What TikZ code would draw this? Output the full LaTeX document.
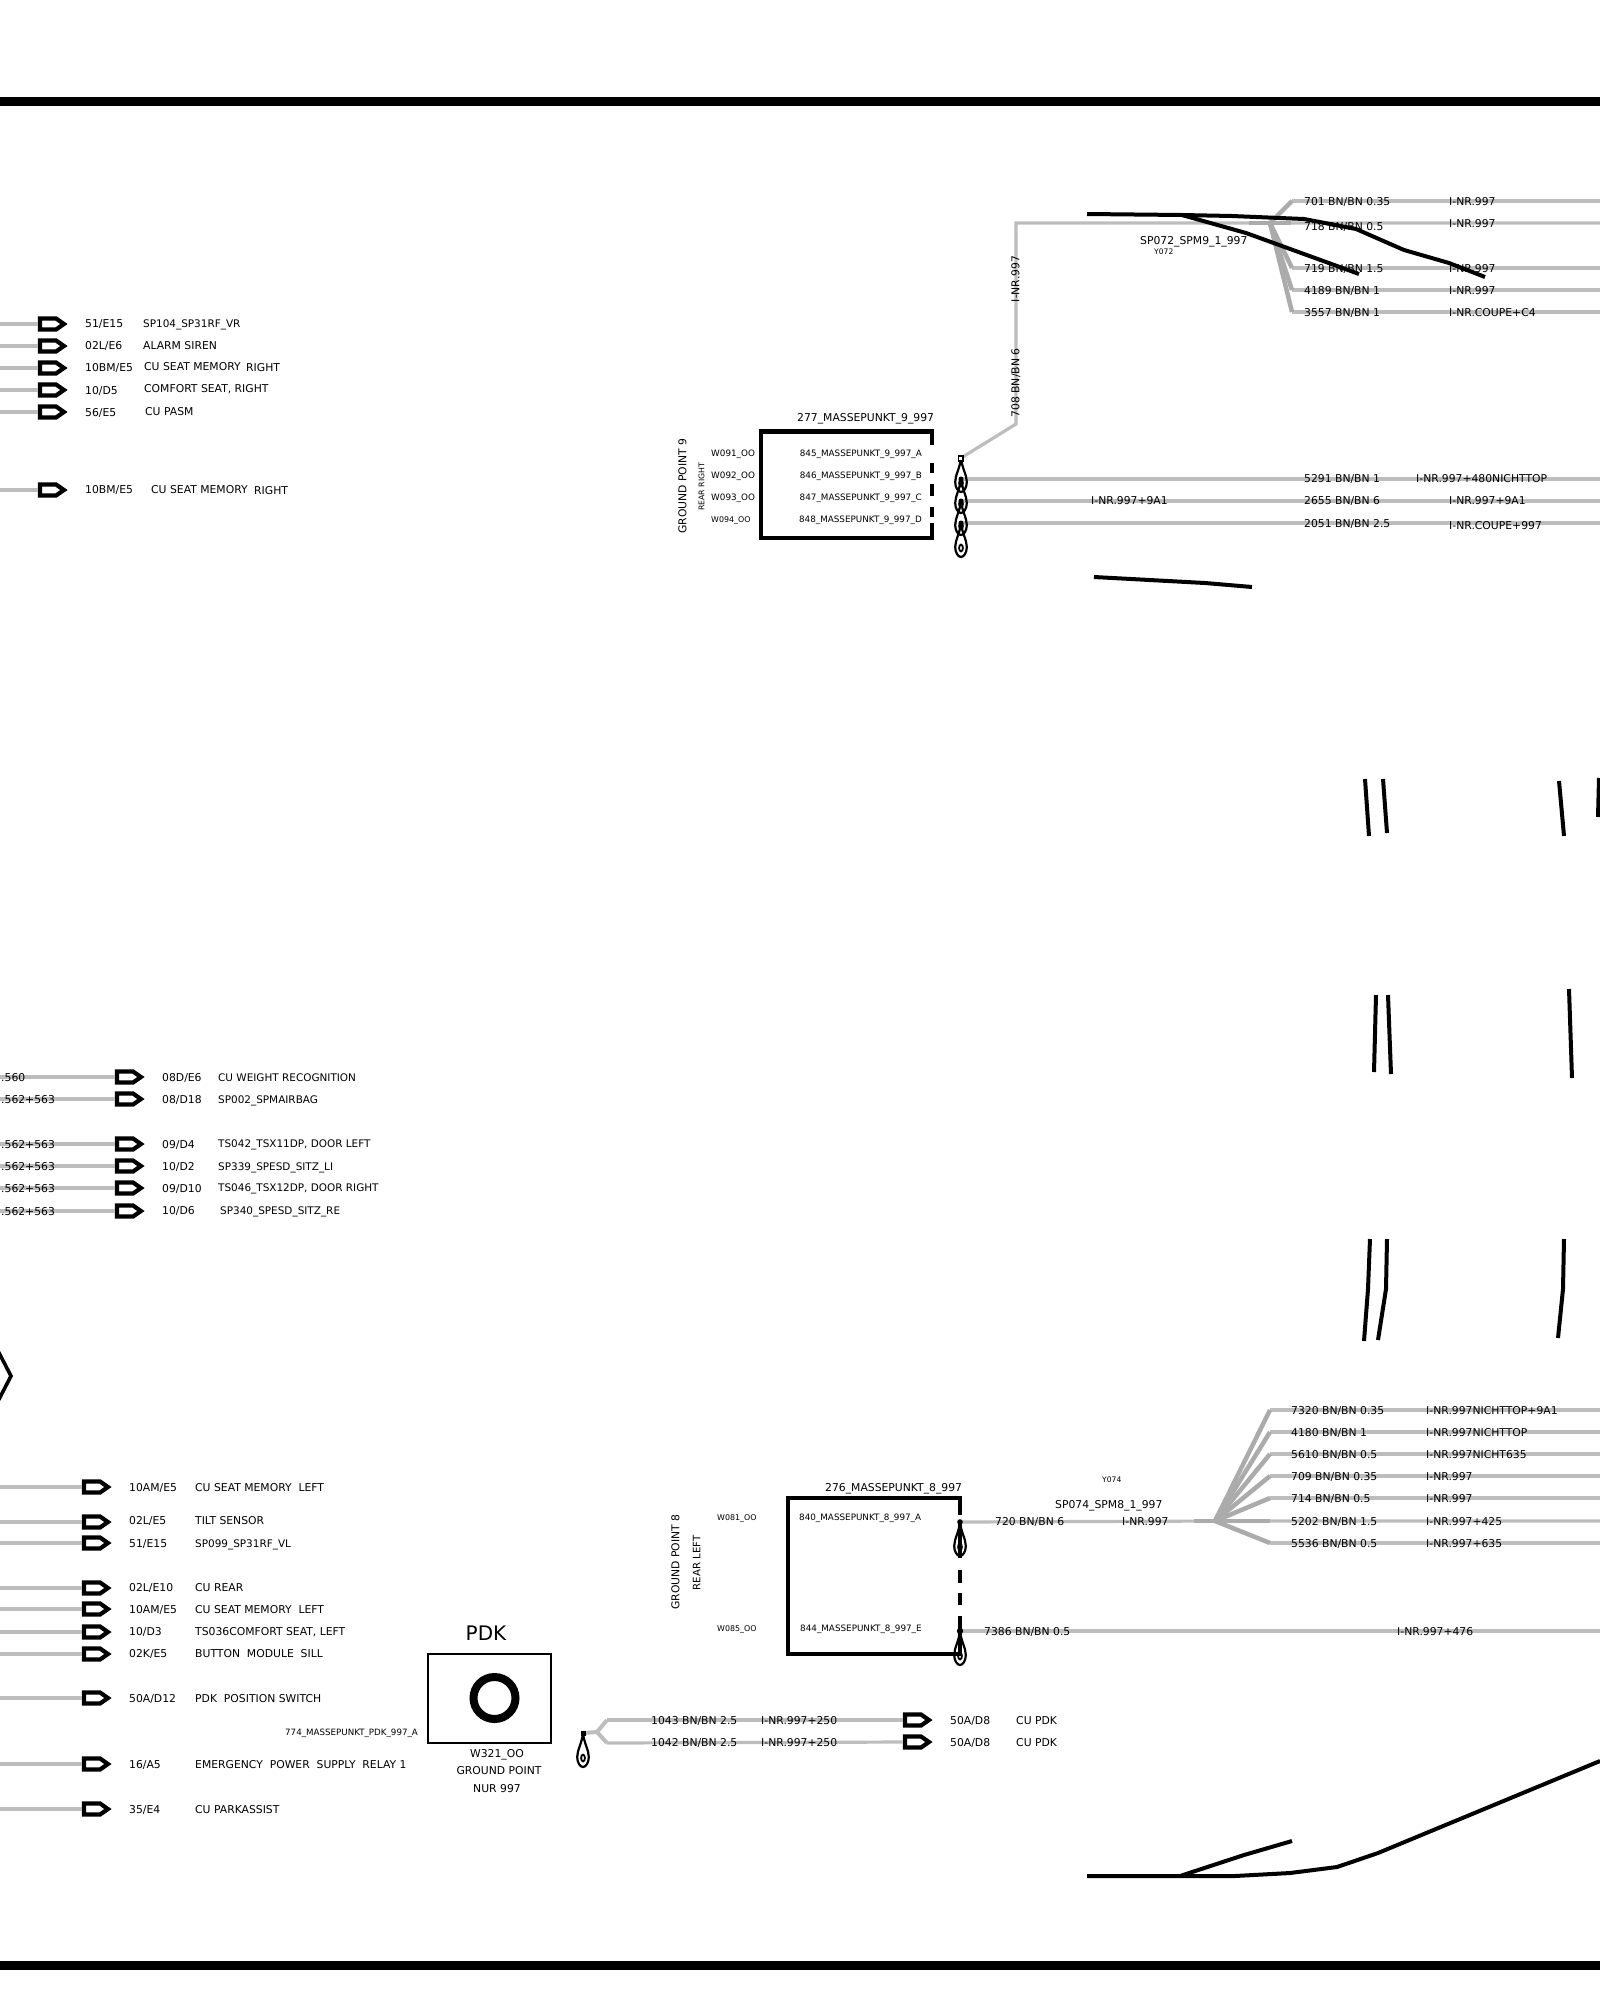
\documentclass[tikz,border=0pt]{standalone}
\usepackage{fontspec}
\setmainfont{DejaVu Sans}
\usetikzlibrary{shapes.symbols,positioning}
\definecolor{wiregray}{HTML}{BDBDBD}
\definecolor{fangray}{HTML}{ABABAB}
\tikzset{
 wire/.style={color=wiregray,line width=3.2pt},
 feed/.style={wire,shorten >=2.2pt},
 fan/.style={color=fangray,line width=4.5pt},
 heavy/.style={line width=4.4pt},
 trace/.style={line width=4pt,line join=round},
 plug/.style={draw,fill=white,signal,signal to=east,signal pointer angle=70,inner sep=0,outer sep=0,line width=4.2pt,minimum width=24pt,minimum height=11pt,
  path picture={\fill (path picture bounding box.south west) rectangle ([xshift=9pt]path picture bounding box.north west);}},
 lbl/.style={anchor=west,inner sep=0,text height=10pt,text depth=0.5pt,font=\fontsize{10.8}{12}\selectfont},
 desc/.style={lbl,font=\fontsize{10.45}{12}\selectfont},
 tiny/.style={lbl,font=\fontsize{8.8}{10}\selectfont},
 eyelet/.pic={
  \draw[line width=2.2pt] (0,0) .. controls (-1,10) and (-5.8,17) .. (-5.8,24) .. controls (-5.8,30) and (-2.6,34) .. (0,34) .. controls (2.6,34) and (5.8,30) .. (5.8,24) .. controls (5.8,17) and (1,10) .. (0,0);
  \draw[line width=1.8pt] (0,25) ellipse (1.9 and 3.4);
 }
}
\begin{document}
\begin{tikzpicture}[x=1pt,y=-1pt]
\useasboundingbox (0,0) rectangle (1600,2000);
%frame bars
\fill (0,97) rectangle (1600,106);
\fill (0,1961) rectangle (1600,1970);
%arrows upper left
\coordinate (w1) at (0,324); \node[plug] (p1) at (48,324) {}; \draw[feed] (w1) -- (p1.west);
\node[lbl] (n1) at (85,323) {51/E15}; \node[desc] (d1) at (143,323) {SP104\_SP31RF\_VR};
\coordinate (w2) at (0,346); \node[plug] (p2) at (48,346) {}; \draw[feed] (w2) -- (p2.west);
\node[lbl] (n2) at (85,345) {02L/E6}; \node[lbl] (d2) at (143,345) {ALARM SIREN};
\coordinate (w3) at (0,368); \node[plug] (p3) at (48,368) {}; \draw[feed] (w3) -- (p3.west);
\node[lbl] (n3) at (85,367) {10BM/E5}; \node[lbl] (d3) at (144,366) {CU SEAT MEMORY}; \node[lbl] (e3) at (246,367) {RIGHT};
\coordinate (w4) at (0,390); \node[plug] (p4) at (48,390) {}; \draw[feed] (w4) -- (p4.west);
\node[lbl] (n4) at (85,390) {10/D5}; \node[lbl] (d4) at (144,388) {COMFORT SEAT, RIGHT};
\coordinate (w5) at (0,412); \node[plug] (p5) at (48,412) {}; \draw[feed] (w5) -- (p5.west);
\node[lbl] (n5) at (85,412) {56/E5}; \node[lbl] (d5) at (145,411) {CU PASM};
\coordinate (w6) at (0,490); \node[plug] (p6) at (48,490) {}; \draw[feed] (w6) -- (p6.west);
\node[lbl] (n6) at (85,489) {10BM/E5}; \node[lbl] (d6) at (151,489) {CU SEAT MEMORY}; \node[lbl] (e6) at (254,490) {RIGHT};
%arrows middle left
\coordinate (w7) at (0,1077); \node[plug] (p7) at (125,1077) {}; \draw[feed] (w7) -- (p7.west);
\node[lbl] (c7) at (1,1077) {.560}; \node[lbl] (n7) at (162,1077) {08D/E6}; \node[desc] (d7) at (218,1077) {CU WEIGHT RECOGNITION};
\coordinate (w8) at (0,1099); \node[plug] (p8) at (125,1099) {}; \draw[feed] (w8) -- (p8.west);
\node[lbl] (c8) at (1,1099) {.562+563}; \node[lbl] (n8) at (162,1099) {08/D18}; \node[desc] (d8) at (218,1099) {SP002\_SPMAIRBAG};
\coordinate (w9) at (0,1144); \node[plug] (p9) at (125,1144) {}; \draw[feed] (w9) -- (p9.west);
\node[lbl] (c9) at (1,1144) {.562+563}; \node[lbl] (n9) at (162,1144) {09/D4}; \node[desc] (d9) at (218,1143) {TS042\_TSX11DP, DOOR LEFT};
\coordinate (w10) at (0,1166); \node[plug] (p10) at (125,1166) {}; \draw[feed] (w10) -- (p10.west);
\node[lbl] (c10) at (1,1166) {.562+563}; \node[lbl] (n10) at (162,1166) {10/D2}; \node[desc] (d10) at (218,1166) {SP339\_SPESD\_SITZ\_LI};
\coordinate (w11) at (0,1188); \node[plug] (p11) at (125,1188) {}; \draw[feed] (w11) -- (p11.west);
\node[lbl] (c11) at (1,1188) {.562+563}; \node[lbl] (n11) at (162,1188) {09/D10}; \node[desc] (d11) at (218,1187) {TS046\_TSX12DP, DOOR RIGHT};
\coordinate (w12) at (0,1211); \node[plug] (p12) at (125,1211) {}; \draw[feed] (w12) -- (p12.west);
\node[lbl] (c12) at (1,1211) {.562+563}; \node[lbl] (n12) at (162,1210) {10/D6}; \node[desc] (d12) at (220,1210) {SP340\_SPESD\_SITZ\_RE};
%big chevron
\draw[line width=3.6pt] (-4,1347) -- (11,1376) -- (-4,1405);
%arrows lower left
\coordinate (w13) at (0,1487); \node[plug] (p13) at (92,1487) {}; \draw[feed] (w13) -- (p13.west);
\node[lbl] (n13) at (129,1487) {10AM/E5}; \node[lbl] (d13) at (195,1487) {CU SEAT MEMORY\ \ LEFT};
\coordinate (w14) at (0,1522); \node[plug] (p14) at (92,1522) {}; \draw[feed] (w14) -- (p14.west);
\node[lbl] (n14) at (129,1520) {02L/E5}; \node[lbl] (d14) at (195,1520) {TILT SENSOR};
\coordinate (w15) at (0,1543); \node[plug] (p15) at (92,1543) {}; \draw[feed] (w15) -- (p15.west);
\node[lbl] (n15) at (129,1543) {51/E15}; \node[desc] (d15) at (195,1543) {SP099\_SP31RF\_VL};
\coordinate (w16) at (0,1588); \node[plug] (p16) at (92,1588) {}; \draw[feed] (w16) -- (p16.west);
\node[lbl] (n16) at (129,1587) {02L/E10}; \node[lbl] (d16) at (195,1587) {CU REAR};
\coordinate (w17) at (0,1609); \node[plug] (p17) at (92,1609) {}; \draw[feed] (w17) -- (p17.west);
\node[lbl] (n17) at (129,1609) {10AM/E5}; \node[lbl] (d17) at (195,1609) {CU SEAT MEMORY\ \ LEFT};
\coordinate (w18) at (0,1632); \node[plug] (p18) at (92,1632) {}; \draw[feed] (w18) -- (p18.west);
\node[lbl] (n18) at (129,1631) {10/D3}; \node[lbl] (d18) at (195,1631) {TS036COMFORT SEAT, LEFT};
\coordinate (w19) at (0,1654); \node[plug] (p19) at (92,1654) {}; \draw[feed] (w19) -- (p19.west);
\node[lbl] (n19) at (129,1653) {02K/E5}; \node[lbl] (d19) at (195,1653) {BUTTON\ \ MODULE\ \ SILL};
\coordinate (w20) at (0,1698); \node[plug] (p20) at (92,1698) {}; \draw[feed] (w20) -- (p20.west);
\node[lbl] (n20) at (129,1698) {50A/D12}; \node[lbl] (d20) at (195,1698) {PDK\ \ POSITION SWITCH};
\coordinate (w21) at (0,1764); \node[plug] (p21) at (92,1764) {}; \draw[feed] (w21) -- (p21.west);
\node[lbl] (n21) at (129,1764) {16/A5}; \node[lbl] (d21) at (195,1764) {EMERGENCY\ \ POWER\ \ SUPPLY\ \ RELAY\ 1};
\coordinate (w22) at (0,1809); \node[plug] (p22) at (92,1809) {}; \draw[feed] (w22) -- (p22.west);
\node[lbl] (n22) at (129,1809) {35/E4}; \node[lbl] (d22) at (195,1809) {CU PARKASSIST};
%pdk ground point
\node (pdk) at (486,1633) {\fontsize{20}{24}\selectfont PDK};
\draw[line width=2.4pt] (428,1654) rectangle (551,1743);
\node[draw,circle,line width=8pt,minimum size=42pt,inner sep=0] (pdkring) at (494.5,1698) {};
\node[tiny,font=\fontsize{8.7}{11}\selectfont] (m774) at (285,1731) {774\_MASSEPUNKT\_PDK\_997\_A};
\node[lbl,anchor=center] (w321) at (497,1753) {W321\_OO};
\node[lbl,anchor=center] (gpdk) at (499,1770) {GROUND POINT};
\node[lbl,anchor=center] (nur) at (497,1788) {NUR 997};
\coordinate (g1) at (583,1733); \coordinate (g2) at (597,1732);
\coordinate (t1) at (607,1720); \coordinate (t2) at (607,1743);
\node[plug] (p23) at (913,1720) {}; \node[plug] (p24) at (913,1742) {};
\draw[wire,line width=4pt] (g1) -- (g2) -- (t1); \draw[wire,line width=4pt] (g2) -- (t2);
\draw[feed] (t1) -- (p23.west); \draw[feed] (t2) -- (p24.west);
\pic at (g1) {eyelet}; \fill (580.5,1730.5) rectangle (585.5,1736);
\node[lbl] (n23) at (651,1720) {1043 BN/BN 2.5}; \node[lbl] (i23) at (761,1720) {I-NR.997+250}; \node[lbl] (s23) at (950,1720) {50A/D8}; \node[lbl] (d23) at (1016,1720) {CU PDK};
\node[lbl] (n24) at (651,1742) {1042 BN/BN 2.5}; \node[lbl] (i24) at (761,1742) {I-NR.997+250}; \node[lbl] (s24) at (950,1742) {50A/D8}; \node[lbl] (d24) at (1016,1742) {CU PDK};
%ground point 9
\draw[heavy] (932,445) -- (932,431.5) -- (761,431.5) -- (761,538) -- (932,538) -- (932,523);
\draw[heavy] (932,463) -- (932,473); \draw[heavy] (932,484) -- (932,496); \draw[heavy] (932,507) -- (932,517);
\node[lbl] (t277) at (797,417) {277\_MASSEPUNKT\_9\_997};
\node[lbl,rotate=90,anchor=center] (gp9) at (681.5,486) {GROUND POINT 9};
\node[tiny,rotate=90,anchor=center,font=\fontsize{7.8}{9}\selectfont] (rr9) at (699.5,487) {REAR RIGHT};
\node[tiny] (w91) at (711,452) {W091\_OO}; \node[tiny] (w92) at (711,474) {W092\_OO};
\node[tiny] (w93) at (711,496) {W093\_OO}; \node[tiny,font=\fontsize{7.9}{9}\selectfont] (w94) at (711,518) {W094\_OO};
\node[tiny,anchor=east] (m845) at (922,452) {845\_MASSEPUNKT\_9\_997\_A}; \node[tiny,anchor=east] (m846) at (922,474) {846\_MASSEPUNKT\_9\_997\_B};
\node[tiny,anchor=east] (m847) at (922,496) {847\_MASSEPUNKT\_9\_997\_C}; \node[tiny,anchor=east] (m848) at (922,518) {848\_MASSEPUNKT\_9\_997\_D};
%wires of ground point 9
\coordinate (e0) at (961,458); \coordinate (e1) at (961,479); \coordinate (e2) at (961,501); \coordinate (e3w) at (961,523);
\coordinate (bend) at (1016,424); \coordinate (top) at (1016,223); \coordinate (sp72) at (1270,223);
\coordinate (r1) at (1600,479); \coordinate (r2) at (1600,501); \coordinate (r3) at (1600,523);
\draw[wire] (e0) -- (bend) -- (top) -- (sp72) -- (1600,223);
\draw[wire] (e1) -- (r1); \draw[wire] (e2) -- (r2); \draw[wire] (e3w) -- (r3);
\pic at (e0) {eyelet}; \pic at (e1) {eyelet}; \pic at (e2) {eyelet}; \pic at (e3w) {eyelet};
\fill (e1) circle (2.5); \fill (e2) circle (2.5); \fill (e3w) circle (2.5);
\draw[fill=white,line width=1.2pt] (958.5,456) rectangle (963,461);
\node[lbl] (n5291) at (1304,478) {5291 BN/BN 1}; \node[lbl] (i5291) at (1416,478) {I-NR.997+480NICHTTOP};
\node[lbl] (i2655a) at (1091,500) {I-NR.997+9A1}; \node[lbl] (n2655) at (1304,500) {2655 BN/BN 6}; \node[lbl] (i2655) at (1449,500) {I-NR.997+9A1};
\node[lbl] (n2051) at (1304,523) {2051 BN/BN 2.5}; \node[lbl] (i2051) at (1449,525) {I-NR.COUPE+997};
\node[lbl,rotate=90,anchor=center] (v997) at (1014.5,279) {I-NR.997};
\node[lbl,rotate=90,anchor=center] (v708) at (1014.5,383) {708 BN/BN 6};
%splice 72
\coordinate (f1) at (1292,201); \coordinate (f3) at (1292,268); \coordinate (f4) at (1292,290); \coordinate (f5) at (1292,312);
\draw[wire] (f1) -- (1600,201); \draw[wire] (f3) -- (1600,268); \draw[wire] (f4) -- (1600,290); \draw[wire] (f5) -- (1600,312);
\draw[fan] (1249,223) -- (1291,223); \draw[fan] (sp72) -- (f1); \draw[fan] (sp72) -- (f3); \draw[fan] (sp72) -- (f4); \draw[fan] (sp72) -- (f5);
\node[lbl] (sp072) at (1140,240) {SP072\_SPM9\_1\_997}; \node[tiny,font=\fontsize{7.6}{9}\selectfont] (y072) at (1154,250) {Y072};
\node[lbl] (n701) at (1304,201) {701 BN/BN 0.35}; \node[lbl] (i701) at (1449,201) {I-NR.997};
\node[lbl] (n718) at (1304,226) {718 BN/BN 0.5}; \node[lbl] (i718) at (1449,223) {I-NR.997};
\node[lbl] (n719) at (1304,268) {719 BN/BN 1.5}; \node[lbl] (i719) at (1449,268) {I-NR.997};
\node[lbl] (n4189) at (1304,290) {4189 BN/BN 1}; \node[lbl] (i4189) at (1449,290) {I-NR.997};
\node[lbl] (n3557) at (1304,312) {3557 BN/BN 1}; \node[lbl] (i3557) at (1449,312) {I-NR.COUPE+C4};
%ground point 8
\draw[heavy] (960,1515) -- (960,1498) -- (788,1498) -- (788,1654) -- (960,1654) -- (960,1616);
\draw[heavy] (960,1523) -- (960,1558); \draw[heavy] (960,1570) -- (960,1583); \draw[heavy] (960,1593) -- (960,1605);
\node[lbl] (t276) at (825,1487) {276\_MASSEPUNKT\_8\_997};
\node[lbl,rotate=90,anchor=center] (gp8) at (674.5,1562) {GROUND POINT 8};
\node[lbl,rotate=90,anchor=center,font=\fontsize{10.2}{12}\selectfont] (rl8) at (695.5,1563) {REAR LEFT};
\node[tiny,font=\fontsize{7.9}{9}\selectfont] (w81) at (717,1516) {W081\_OO}; \node[tiny,font=\fontsize{7.9}{9}\selectfont] (w85) at (717,1627) {W085\_OO};
\node[tiny] (m840) at (799,1516) {840\_MASSEPUNKT\_8\_997\_A}; \node[tiny] (m844) at (800,1627) {844\_MASSEPUNKT\_8\_997\_E};
\coordinate (h1) at (960,1522); \coordinate (h2) at (960,1631); \coordinate (sp74) at (1215,1521);
\coordinate (h3) at (1600,1631);
\draw[wire] (h1) -- (sp74) -- (1600,1521); \draw[wire] (h2) -- (h3);
\pic at (h1) {eyelet}; \pic at (h2) {eyelet};
\fill (h1) circle (2.8); \fill (h2) circle (3.2);
\node[lbl] (n720) at (995,1521) {720 BN/BN 6}; \node[lbl] (i720) at (1122,1521) {I-NR.997};
\node[lbl] (n7386) at (984,1631) {7386 BN/BN 0.5}; \node[lbl] (i7386) at (1397,1631) {I-NR.997+476};
%splice 74
\coordinate (k1) at (1270,1410); \coordinate (k2) at (1270,1432); \coordinate (k3) at (1270,1454); \coordinate (k4) at (1270,1476);
\coordinate (k5) at (1270,1498); \coordinate (k6) at (1270,1521); \coordinate (k7) at (1270,1543);
\draw[wire] (k1) -- (1600,1410); \draw[wire] (k2) -- (1600,1432); \draw[wire] (k3) -- (1600,1454); \draw[wire] (k4) -- (1600,1476);
\draw[wire] (k5) -- (1600,1498); \draw[wire] (k7) -- (1600,1543);
\draw[fan] (1194,1521) -- (k6); \draw[fan] (sp74) -- (k1); \draw[fan] (sp74) -- (k2); \draw[fan] (sp74) -- (k3);
\draw[fan] (sp74) -- (k4); \draw[fan] (sp74) -- (k5); \draw[fan] (sp74) -- (k7);
\node[lbl] (sp074) at (1055,1504) {SP074\_SPM8\_1\_997}; \node[tiny,font=\fontsize{7.6}{9}\selectfont] (y074) at (1102,1478) {Y074};
\node[lbl] (n7320) at (1291,1410) {7320 BN/BN 0.35}; \node[lbl] (i7320) at (1426,1410) {I-NR.997NICHTTOP+9A1};
\node[lbl] (n4180) at (1291,1432) {4180 BN/BN 1}; \node[lbl] (i4180) at (1426,1432) {I-NR.997NICHTTOP};
\node[lbl] (n5610) at (1291,1454) {5610 BN/BN 0.5}; \node[lbl] (i5610) at (1426,1454) {I-NR.997NICHT635};
\node[lbl] (n709) at (1291,1476) {709 BN/BN 0.35}; \node[lbl] (i709) at (1426,1476) {I-NR.997};
\node[lbl] (n714) at (1291,1498) {714 BN/BN 0.5}; \node[lbl] (i714) at (1426,1498) {I-NR.997};
\node[lbl] (n5202) at (1291,1521) {5202 BN/BN 1.5}; \node[lbl] (i5202) at (1426,1521) {I-NR.997+425};
\node[lbl] (n5536) at (1291,1543) {5536 BN/BN 0.5}; \node[lbl] (i5536) at (1426,1543) {I-NR.997+635};
%black traces on top
\draw[trace] (1087,214) -- (1182,215) -- (1246,233) -- (1315,258) -- (1359,274);
\draw[trace] (1182,215) -- (1232,216) -- (1304,219) -- (1356,229) -- (1404,250) -- (1449,263) -- (1485,277);
\draw[trace] (1094,577) -- (1205,583) -- (1252,587);
\draw[trace] (1365,779) -- (1369,836); \draw[trace] (1383,779) -- (1387,833); \draw[trace] (1559,781) -- (1564,836); \draw[trace] (1599,778) -- (1598,817);
\draw[trace] (1376,995) -- (1374,1072); \draw[trace] (1388,995) -- (1391,1074); \draw[trace] (1569,989) -- (1572,1078);
\draw[trace] (1370,1239) -- (1368,1289) -- (1364,1341); \draw[trace] (1387,1239) -- (1386,1289) -- (1378,1340); \draw[trace] (1564,1239) -- (1563,1289) -- (1558,1338);
\draw[trace] (1087,1876) -- (1235,1876) -- (1290,1873) -- (1337,1867) -- (1378,1853) -- (1600,1761);
\draw[trace] (1180,1876) -- (1244,1855) -- (1292,1841);
\end{tikzpicture}
\end{document}
